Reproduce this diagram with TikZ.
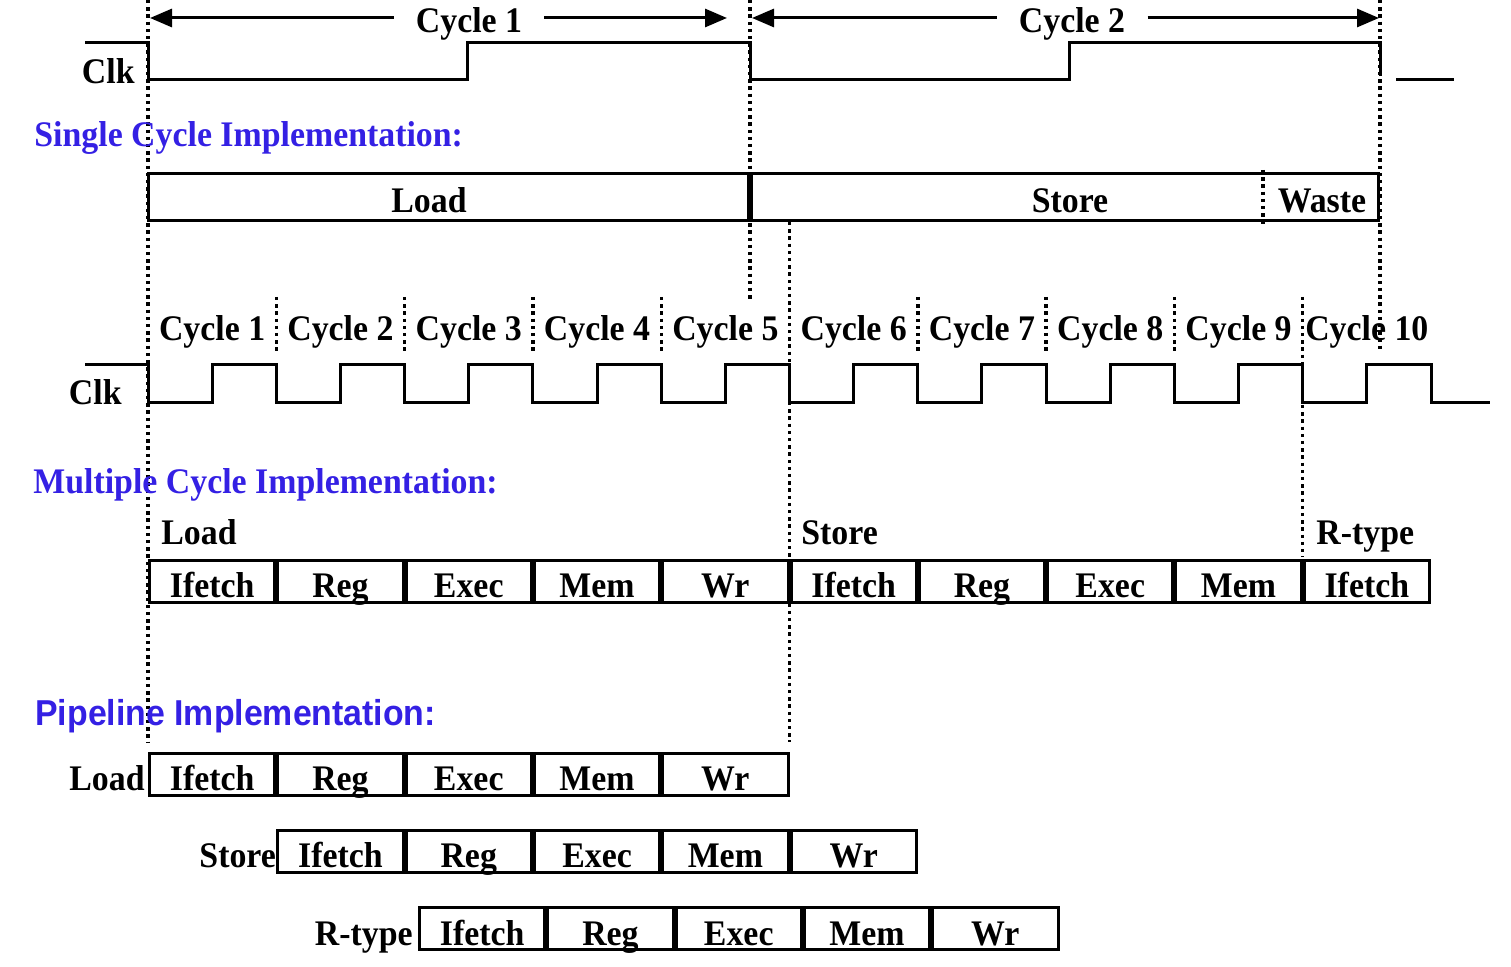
\documentclass[tikz,border=0pt]{standalone}
\usepackage{fontspec}
\setmainfont[FakeStretch=0.94]{Liberation Serif}
\newfontfamily\implsans[FakeStretch=0.94]{Liberation Sans}
\usetikzlibrary{arrows.meta,positioning}
\definecolor{implblue}{RGB}{52,32,228}

\tikzset{
  txt/.style={font=\bfseries\fontsize{18}{21}\selectfont, inner sep=0pt},
  impl/.style={txt, text=implblue, anchor=base west},
  pipehead/.style={impl, font=\implsans\bfseries\fontsize{18}{21}\selectfont},
  stagebox/.style={txt, draw, line width=1.5pt, minimum width=62.65pt, minimum height=21pt, text height=16.5pt, text depth=0pt},
  wave/.style={line width=1.5pt},
  guide/.style={line width=1.7pt, dash pattern=on 1.7pt off 1.9pt},
  span/.style={line width=1.5pt, -{Triangle[length=11pt,width=9pt]}},
}

\begin{document}
\begin{tikzpicture}[x=0.5pt, y=-0.5pt]
\useasboundingbox (0,0) rectangle (1511,967);

\draw[guide] (148,0) -- (148,742);
\draw[guide] (750,0) -- (750,300);
\draw[guide] (1380,0) -- (1380,352);
\draw[guide] (789.5,222) -- (789.5,742);
\draw[guide] (1302.7,297) -- (1302.7,557);
\foreach \x in {276.3,404.6,532.9,661.2,917.8,1046.1,1174.4}
  \draw[guide] (\x,297) -- (\x,352);

\node[txt, anchor=base, inner xsep=11pt] (cyctop1) at (469,33) {Cycle 1};
\node[txt, anchor=base, inner xsep=11pt] (cyctop2) at (1072,33) {Cycle 2};
\coordinate (c1start) at (150,18);
\coordinate (c1end) at (727,18);
\coordinate (c2start) at (752,18);
\coordinate (c2end) at (1379,18);
\draw[span] (cyctop1.west |- c1start) -- (c1start);
\draw[span] (cyctop1.east |- c1end) -- (c1end);
\draw[span] (cyctop2.west |- c2start) -- (c2start);
\draw[span] (cyctop2.east |- c2end) -- (c2end);

\node[txt, anchor=base east] (clktop) at (135,84) {Clk};
\draw[wave] (85,43) -- (148,43) -- (148,80) -- (467,80) -- (467,43) -- (750,43) -- (750,80) -- (1069,80) -- (1069,43) -- (1380,43) -- (1380,76);
\draw[wave] (1396,80) -- (1454,80);

\node[impl] (singlehead) at (34,147) {Single Cycle Implementation:};
\draw[line width=1.5pt] (148,174) rectangle (1378,220.5);
\draw[line width=3pt] (750,174) -- (750,220.5);
\draw[guide] (1263,170) -- (1263,225);
\node[txt, anchor=base] (scload) at (429,213) {Load};
\node[txt, anchor=base] (scstore) at (1070,213) {Store};
\node[txt, anchor=base] (scwaste) at (1322,213) {Waste};

\foreach \k in {1,...,10}
  \node[txt, anchor=base] (cyc\k) at ({148+128.3*(\k-0.5)},341) {Cycle \k};
\node[txt, anchor=base east] (clkmid) at (122,405) {Clk};
\draw[wave] (85,365) foreach \k in {0,...,9} { -- ({148+128.3*\k},365) -- ({148+128.3*\k},403) -- ({212.15+128.3*\k},403) -- ({212.15+128.3*\k},365) } -- (1431,365) -- (1431,403) -- (1490,403);

\node[impl] (multihead) at (33,494) {Multiple Cycle Implementation:};
\node[txt, anchor=base west] (mcload) at (161,545) {Load};
\node[txt, anchor=base west] (mcstore) at (801,545) {Store};
\node[txt, anchor=base west] (mcrtype) at (1316,545) {R-type};
\foreach \stage [count=\k] in {Ifetch,Reg,Exec,Mem,Wr,Ifetch,Reg,Exec,Mem,Ifetch}
  \node[stagebox, anchor=north west] (mc\k) at ({148+128.3*(\k-1)},559) {\stage};

\node[pipehead] (pipehead) at (35,726) {Pipeline Implementation:};
\foreach \row/\x/\y in {ld/148/752, st/276.3/829, rt/418/906} {
  \node[stagebox, anchor=north west] (\row1) at (\x,\y) {Ifetch};
  \node[stagebox, right=0pt of \row1] (\row2) {Reg};
  \node[stagebox, right=0pt of \row2] (\row3) {Exec};
  \node[stagebox, right=0pt of \row3] (\row4) {Mem};
  \node[stagebox, right=0pt of \row4] (\row5) {Wr};
}
\node[txt, anchor=base east, xshift=-1.5pt] (plload) at (ld1.west |- ld1.base) {Load};
\node[txt, anchor=base east] (plstore) at (st1.west |- st1.base) {Store};
\node[txt, anchor=base east, xshift=-2.5pt] (plrtype) at (rt1.west |- rt1.base) {R-type};
\end{tikzpicture}
\end{document}
